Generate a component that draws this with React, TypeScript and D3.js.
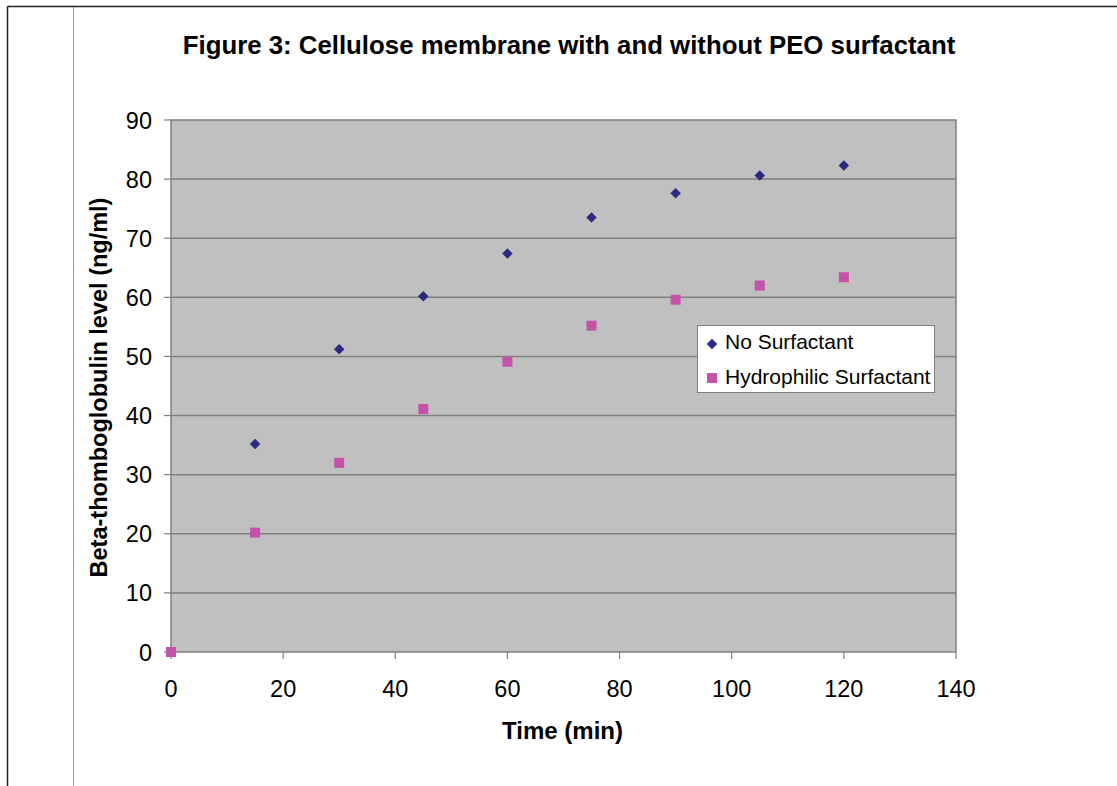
import React from "react";
import * as d3 from "d3";

const timeMin = [0, 15, 30, 45, 60, 75, 90, 105, 120];
const noSurfactant = [0, 35.2, 51.2, 60.2, 67.4, 73.5, 77.6, 80.6, 82.3];
const hydrophilic = [0, 20.2, 32.0, 41.1, 49.1, 55.2, 59.6, 62.0, 63.4];
const xTicks = [0, 20, 40, 60, 80, 100, 120, 140];
const yTicks = [0, 10, 20, 30, 40, 50, 60, 70, 80, 90];
const seriesNames = ["No Surfactant", "Hydrophilic Surfactant"];

const W = 1117, H = 786;
const L = 171, R = 956, T = 120, B = 652;
const FONT = "Liberation Sans, Arial, sans-serif";

export default function App() {
  const x = d3.scaleLinear().domain([0, 140]).range([L, R]);
  const y = d3.scaleLinear().domain([0, 90]).range([B, T]);
  const diamond = d3.symbol().type(d3.symbolDiamond2 ?? d3.symbolDiamond).size(70)();
  const navy = "#2b2a80";
  const pink = "#c452a8";
  return (
    <svg width={W} height={H} style={{ position: "absolute", left: 0, top: 0 }} fontFamily={FONT}>
      <rect x={0} y={0} width={W} height={H} fill="#fff" />
      <line x1={7.5} y1={6.5} x2={W} y2={6.5} stroke="#222" strokeWidth={1.5} />
      <line x1={7.5} y1={6.5} x2={7.5} y2={H} stroke="#222" strokeWidth={1.5} />
      <line x1={73.5} y1={7} x2={73.5} y2={H} stroke="#999" strokeWidth={1} />
      <text x={569} y={54} textAnchor="middle" fontSize={25.8} fontWeight="bold">
        Figure 3: Cellulose membrane with and without PEO surfactant
      </text>
      <rect x={L} y={T} width={R - L} height={B - T} fill="#c0c0c0" />
      {yTicks.map((t) => (
        <g key={"y" + t}>
          {t > 0 && t < 90 && (
            <line x1={L} x2={R} y1={y(t)} y2={y(t)} stroke="#808080" strokeWidth={1.5} />
          )}
          <line x1={L - 7} x2={L} y1={y(t)} y2={y(t)} stroke="#808080" strokeWidth={1.2} />
          <text x={152} y={y(t) + 8.5} textAnchor="end" fontSize={23.5}>{t}</text>
        </g>
      ))}
      {xTicks.map((t) => (
        <g key={"x" + t}>
          <line x1={x(t)} x2={x(t)} y1={B} y2={B + 7} stroke="#808080" strokeWidth={1.2} />
          <text x={x(t)} y={697} textAnchor="middle" fontSize={23.5}>{t}</text>
        </g>
      ))}
      <rect x={L} y={T} width={R - L} height={B - T} fill="none" stroke="#808080" strokeWidth={1.5} />
      <text x={562.5} y={739} textAnchor="middle" fontSize={24} fontWeight="bold">Time (min)</text>
      <text transform={`translate(107,387.5) rotate(-90)`} textAnchor="middle" fontSize={23.5} fontWeight="bold">
        Beta-thomboglobulin level (ng/ml)
      </text>
      {timeMin.map((t, i) => (
        <path key={"n" + i} d={diamond} transform={`translate(${x(t)},${y(noSurfactant[i])})`} fill={navy} />
      ))}
      {timeMin.map((t, i) => (
        <rect key={"h" + i} x={x(t) - 5} y={y(hydrophilic[i]) - 5} width={10} height={10} fill={pink} />
      ))}
      <rect x={697.5} y={325.5} width={237} height={67} fill="#fff" stroke="#808080" strokeWidth={1} />
      <path d={diamond} transform="translate(712,344)" fill={navy} />
      <rect x={707} y={373} width={10} height={10} fill={pink} />
      <text x={725} y={349} fontSize={21}>{seriesNames[0]}</text>
      <text x={725} y={384} fontSize={21}>{seriesNames[1]}</text>
    </svg>
  );
}
